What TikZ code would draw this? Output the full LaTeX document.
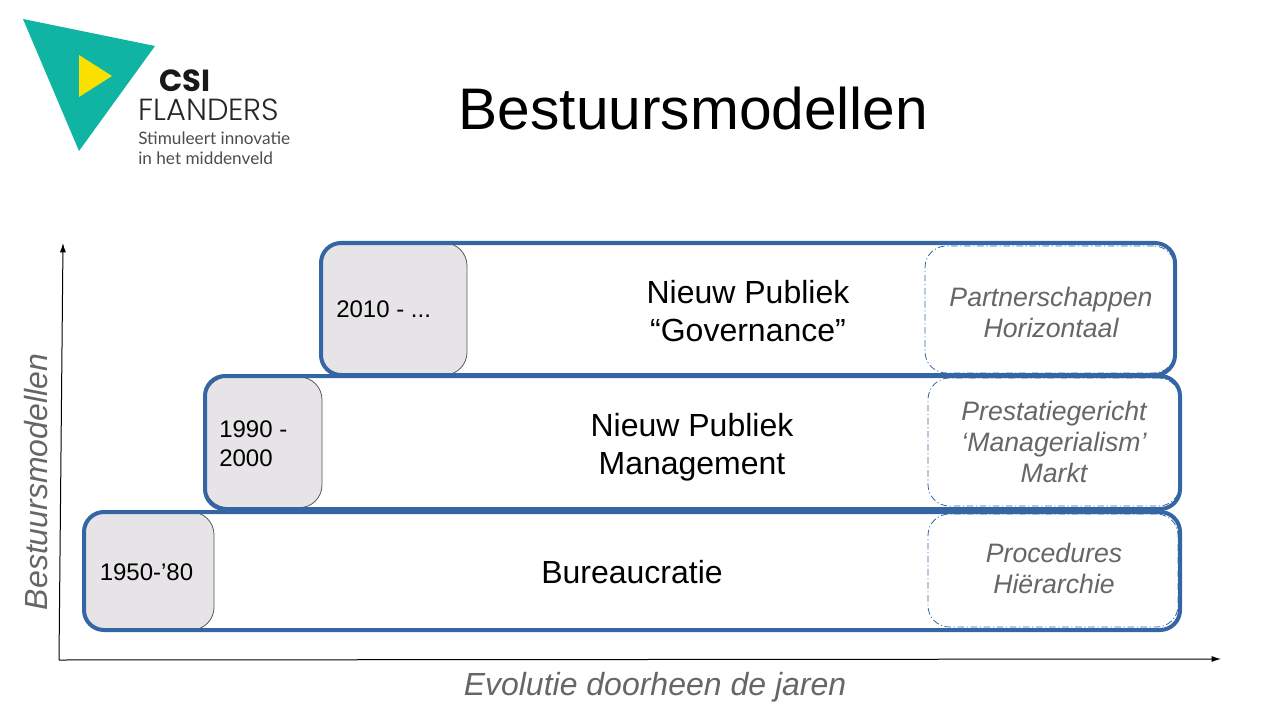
\documentclass[tikz,border=0pt]{standalone}
\usepackage{fontspec}
\setmainfont{Liberation Sans}
\newfontfamily\logobold{Poppins}[BoldFont=* Bold]
\newfontfamily\logolight{Poppins Light}
\newfontfamily\logotext{Lato}
\definecolor{rowblue}{HTML}{3465A4}
\definecolor{dategray}{HTML}{E6E4E6}
\definecolor{softgray}{HTML}{666666}
\definecolor{logoteal}{HTML}{0FB5A2}
\definecolor{logoyellow}{HTML}{FAE100}
\tikzset{
  rowbox/.style={draw=rowblue,line width=3pt,rounded corners=15pt,anchor=north west,inner sep=0pt,outer sep=0pt},
  datebox/.style={draw=black!65,line width=0.6pt,fill=dategray,rounded corners=17pt,anchor=north west,inner sep=0pt,outer sep=0pt},
  valuebox/.style={draw=rowblue,line width=0.6pt,dash pattern=on 5pt off 2pt on 0.8pt off 2pt,rounded corners=16pt,anchor=north west,inner sep=0pt,outer sep=0pt},
  rowtext/.style={font=\fontsize{24}{28.5}\selectfont,align=center,text=black,inner sep=0pt},
  datetext/.style={font=\fontsize{18}{21.75}\selectfont,align=left,text=black,inner sep=0pt},
  valuetext/.style={font=\fontsize{20}{23.25}\selectfont\itshape,align=center,text=softgray,inner sep=0pt},
  axistext/.style={font=\fontsize{24}{28}\selectfont\itshape,text=softgray,inner sep=0pt},
  axisline/.style={draw=black,line width=0.75pt,-{Latex[length=7pt,width=4.5pt]}},
}
\usetikzlibrary{arrows.meta}
\begin{document}
\begin{tikzpicture}[x=0.75pt,y=-0.75pt]
\useasboundingbox (0,0) rectangle (1280,720);
% logo
\fill[logoteal] (23,19) -- (155,46) -- (79,151) -- cycle;
\fill[logoyellow] (79,55) -- (112,76) -- (79,97) -- cycle;
\node[anchor=west,inner sep=0pt,font=\fontsize{22.9}{26}\selectfont\logobold\bfseries,text=black!90] (logocsi) at (159,81) {CSI};
\node[anchor=west,inner sep=0pt,font=\fontsize{22.9}{26}\selectfont\logolight,text=black!85] (logoflanders) at (138,110) {FLANDERS};
\node[anchor=west,inner sep=0pt,font=\fontsize{12.9}{15}\selectfont\logotext,text=black!70] (logoline1) at (138,138) {Stimuleert innovatie};
\node[anchor=west,inner sep=0pt,font=\fontsize{12.9}{15}\selectfont\logotext,text=black!70] (logoline2) at (138,158) {in het middenveld};
% title
\node[inner sep=0pt,font=\fontsize{44}{50}\selectfont] (title) at (693.5,109) {Bestuursmodellen};
% axes
\coordinate (origin) at (59,660);
\coordinate (yend) at (63,243);
\coordinate (xend) at (1221,659);
\draw[axisline] (origin) -- (yend);
\draw[axisline] (origin) -- (xend);
% date boxes
\node[datebox,minimum width=109.5pt,minimum height=99pt] (date3) at (321,243) {};
\node[datebox,minimum width=87.75pt,minimum height=98pt] (date2) at (205,377) {};
\node[datebox,minimum width=97.5pt,minimum height=88.5pt] (date1) at (84,512) {};
% rows
\node[rowbox,minimum width=640.5pt,minimum height=99pt] (row3) at (321,243) {};
\node[rowbox,minimum width=731.25pt,minimum height=99.75pt] (row2) at (205,376) {};
\node[rowbox,minimum width=822pt,minimum height=88.5pt] (row1) at (84,512) {};
% value boxes
\node[valuebox,minimum width=187.5pt,minimum height=95.25pt] (value3) at (925,246) {};
\node[valuebox,minimum width=189pt,minimum height=96pt] (value2) at (928,378) {};
\node[valuebox,minimum width=187.5pt,minimum height=84.75pt] (value1) at (928,514) {};
% row text
\node[rowtext] (name3) at (748,311.5) {Nieuw Publiek\\“Governance”};
\node[rowtext] (name2) at (692,447) {Nieuw Publiek\\Management};
\node[rowtext] (name1) at (632,572) {Bureaucratie};
% dates
\node[datetext,anchor=west] (year3) at (336,309) {2010 - ...};
\node[datetext,anchor=west] (year2) at (219,443.5) {1990 -\\2000};
\node[datetext] (year1) at (146.5,572) {1950-’80};
% values
\node[valuetext] (val3) at (1051,312.5) {Partnerschappen\\Horizontaal};
\node[valuetext] (val2) at (1054,441.5) {Prestatiegericht\\‘Managerialism’\\Markt};
\node[valuetext] (val1) at (1054,568.5) {Procedures\\Hiërarchie};
% axis labels
\node[axistext] (xlabel) at (655,687) {Evolutie doorheen de jaren};
\node[axistext,rotate=90] (ylabel) at (36,482) {Bestuursmodellen};
\end{tikzpicture}
\end{document}
